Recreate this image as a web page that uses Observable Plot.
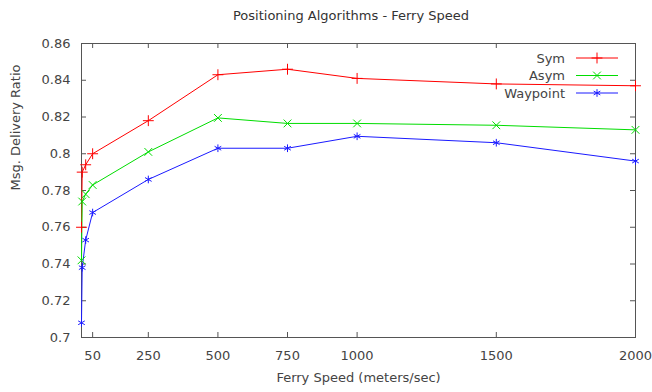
<!DOCTYPE html>
<html><head><meta charset="utf-8">
<script src="https://cdn.jsdelivr.net/npm/d3@7"></script>
<script src="https://cdn.jsdelivr.net/npm/@observablehq/plot@0.6"></script>
<style>
body{margin:0;background:#fff;font-family:"DejaVu Sans",sans-serif;}
#wrap{position:relative;width:652px;height:392px;overflow:hidden;}
#title{height:28px;line-height:24px;padding-top:4px;padding-left:50px;box-sizing:border-box;text-align:center;font-size:13px;color:#333;}
#legend{position:absolute;left:0;top:0;pointer-events:none;}
</style></head><body>
<div id="wrap"><div id="title">Positioning Algorithms - Ferry Speed</div><div id="chart"></div></div>
<script>
// Data
const speeds   = [10, 12.5, 25, 50, 250, 500, 750, 1000, 1500, 2000];
const sym      = [0.760, 0.790, 0.794, 0.800, 0.818, 0.843, 0.846, 0.841, 0.838, 0.837];
const asym     = [0.742, 0.774, 0.778, 0.783, 0.801, 0.8195, 0.8165, 0.8165, 0.8155, 0.813];
const waypoint = [0.708, 0.738, 0.753, 0.768, 0.786, 0.803, 0.803, 0.8095, 0.806, 0.796];
const seriesNames = ["Sym", "Asym", "Waypoint"];
const seriesColors = ["#ff0000", "#00dd00", "#1a1aff"];
const seriesSymbols = ["plus", "times", "asterisk"];
const xTicks = [50, 250, 500, 750, 1000, 1500, 2000];
const yTicks = [0.7, 0.72, 0.74, 0.76, 0.78, 0.8, 0.82, 0.84, 0.86];
const yTickLabels = ["0.7", "0.72", "0.74", "0.76", "0.78", "0.8", "0.82", "0.84", "0.86"];

const seriesValues = [sym, asym, waypoint];
const rows = [];
seriesNames.forEach((name, s) => speeds.forEach((sp, i) => rows.push({series: name, speed: sp, value: seriesValues[s][i]})));

const axisColor = "#555";
const textColor = "#444";

const W = 652, H = 364, mL = 81, mR = 17, mT = 15, mB = 55, tickLen = 5;
const frameW = W - mL - mR, frameH = H - mT - mB;

const chart = Plot.plot({
  width: W,
  height: H,
  marginLeft: mL,
  marginRight: mR,
  marginTop: mT,
  marginBottom: mB,
  style: {fontFamily: "DejaVu Sans, sans-serif", fontSize: "13px", color: textColor, background: "#fff"},
  x: {domain: [10, 2000]},
  y: {domain: [0.7, 0.86]},
  color: {domain: seriesNames, range: seriesColors},
  symbol: {domain: seriesNames, range: seriesSymbols},
  marks: [
    // inward ticks on all four sides
    Plot.tickX(xTicks, {x: d => d, insetTop: frameH - tickLen, stroke: axisColor}),
    Plot.tickX(xTicks, {x: d => d, insetBottom: frameH - tickLen, stroke: axisColor}),
    Plot.tickY(yTicks, {y: d => d, insetRight: frameW - tickLen, stroke: axisColor}),
    Plot.tickY(yTicks, {y: d => d, insetLeft: frameW - tickLen, stroke: axisColor}),
    Plot.frame({stroke: axisColor}),
    // tick labels
    Plot.axisX(xTicks, {anchor: "bottom", tickSize: 0, tickPadding: 13, tickFormat: d => String(d), label: null, fill: textColor}),
    Plot.axisY(yTicks, {anchor: "left", tickSize: 0, tickPadding: 11, tickFormat: d => yTickLabels[yTicks.indexOf(d)], label: null, fill: textColor}),
    // axis titles
    Plot.text(["Ferry Speed (meters/sec)"], {frameAnchor: "bottom", dy: 44, fill: textColor, fontSize: 13}),
    Plot.text(["Msg. Delivery Ratio"], {frameAnchor: "left", rotate: -90, dx: -66, fill: textColor, fontSize: 13}),
    // data
    Plot.line(rows, {x: "speed", y: "value", z: "series", stroke: "series", strokeWidth: 1}),
    Plot.dot(rows, {x: "speed", y: "value", stroke: "series", symbol: "series", r: 3.6, strokeWidth: 1})
  ]
});
document.getElementById("chart").appendChild(chart);

// legend inside the plot, top-right
const leg = d3.create("svg").attr("id", "legend").attr("width", 652).attr("height", 392)
  .style("font-family", "DejaVu Sans, sans-serif").style("font-size", "13px");
const symMap = {plus: d3.symbolPlus, times: d3.symbolTimes, asterisk: d3.symbolAsterisk};
seriesNames.forEach((name, i) => {
  const y = 58 + i * 17.5;
  leg.append("text").attr("x", 565).attr("y", y).attr("text-anchor", "end").attr("dy", "0.35em").attr("fill", textColor).text(name);
  leg.append("line").attr("x1", 576).attr("x2", 618).attr("y1", y).attr("y2", y).attr("stroke", seriesColors[i]);
  leg.append("path").attr("transform", `translate(597,${y})`).attr("d", d3.symbol(symMap[seriesSymbols[i]], Math.PI * 3.6 * 3.6)()).attr("fill", "none").attr("stroke", seriesColors[i]);
});
document.getElementById("wrap").appendChild(leg.node());
</script>
</body></html>
